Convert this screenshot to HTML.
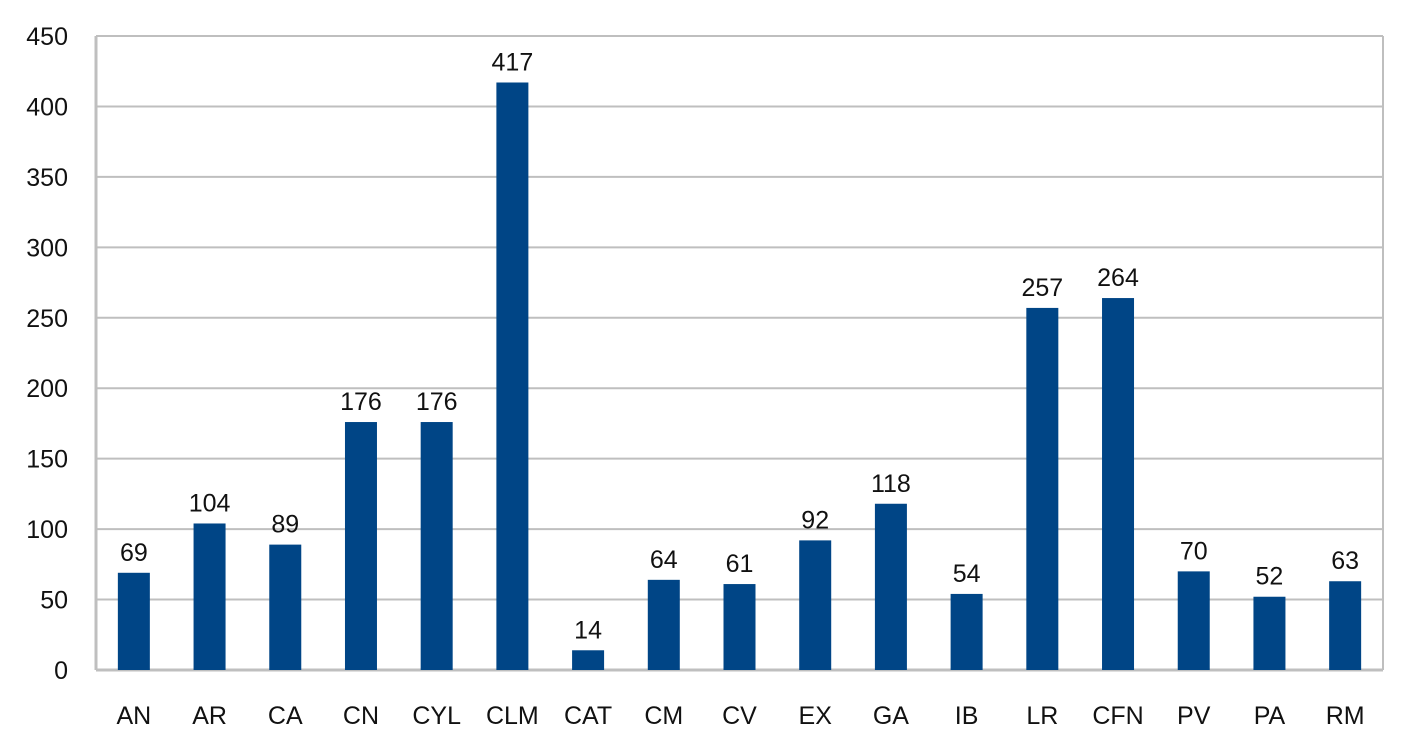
<!DOCTYPE html>
<html><head><meta charset="utf-8"><style>body{margin:0;background:#fff}</style></head>
<body>
<svg width="1417" height="749" xmlns="http://www.w3.org/2000/svg" font-family="Liberation Sans, sans-serif" font-size="25" fill="#111">
<g id="g"></g>
<script>
const s="http://www.w3.org/2000/svg",g=document.getElementById('g');
function el(t,a,txt){const e=document.createElementNS(s,t);for(const k in a)e.setAttribute(k,a[k]);if(txt!=null)e.textContent=txt;g.appendChild(e);return e;}
const L=96,R=1383,T=36,B=670,sc=(B-T)/450;
for(let v=0;v<=450;v+=50){const y=B-v*sc;el('line',{x1:L,x2:R,y1:y,y2:y,stroke:'#bfbfbf','stroke-width':2});el('text',{x:68,y:y+9,'text-anchor':'end'},v);}
el('line',{x1:L,x2:L,y1:T,y2:B,stroke:'#bfbfbf','stroke-width':3});
el('line',{x1:R,x2:R,y1:T,y2:B,stroke:'#bfbfbf','stroke-width':2});
el('line',{x1:L,x2:R,y1:B,y2:B,stroke:'#bfbfbf','stroke-width':3});
const c="AN AR CA CN CYL CLM CAT CM CV EX GA IB LR CFN PV PA RM".split(' '),d=[69,104,89,176,176,417,14,64,61,92,118,54,257,264,70,52,63];
const w=(R-L)/17;
c.forEach((n,i)=>{const cx=L+w*(i+0.5),h=d[i]*sc;
el('rect',{x:cx-16,y:B-h,width:32,height:h,fill:'#004586'});
el('text',{x:cx,y:B-h-12,'text-anchor':'middle'},d[i]);
el('text',{x:cx,y:724,'text-anchor':'middle'},n);});
</script>
</svg>
</body></html>
